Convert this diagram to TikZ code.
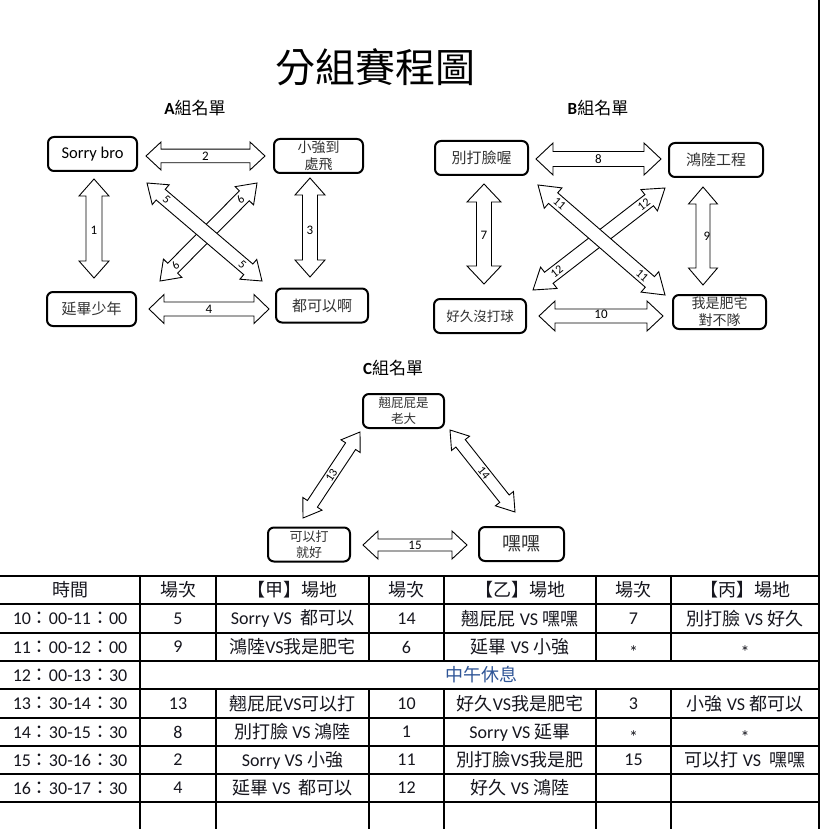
\documentclass[tikz,border=0pt]{standalone}
\usepackage{fontspec}
\setmainfont{Carlito}
\newfontfamily\cjk{Noto Sans CJK TC}
\usetikzlibrary{calc}
\definecolor{lunch}{RGB}{47,85,151}
\definecolor{txt}{RGB}{22,22,30}
\definecolor{boxtxt}{RGB}{50,50,50}
\newcommand{\fwc}{{\cjk ：}}
\newcommand{\blockarrow}[5]{%
 \draw[barrow] (#1) -- ($(#1)!#5!(#2)!#3!90:(#2)$) -- ($(#1)!#5!(#2)!#4!90:(#2)$)
  -- ($(#2)!#5!(#1)!#4!-90:(#1)$) -- ($(#2)!#5!(#1)!#3!-90:(#1)$) -- (#2)
  -- ($(#2)!#5!(#1)!#3!90:(#1)$) -- ($(#2)!#5!(#1)!#4!90:(#1)$)
  -- ($(#1)!#5!(#2)!#4!-90:(#2)$) -- ($(#1)!#5!(#2)!#3!-90:(#2)$) -- cycle;}
\begin{document}
\begin{tikzpicture}[x=1pt,y=-1pt,
 box/.style={draw, line width=2pt, rounded corners=6pt, inner sep=0pt, align=center, text=boxtxt,
   minimum width=89pt, minimum height=34pt},
 barrow/.style={draw=black, fill=white, line width=0.9pt, line join=miter},
 alabel/.style={font=\fontsize{13}{13}\selectfont, inner sep=0pt},
 dlabel/.style={font=\fontsize{12}{12}\selectfont, inner sep=0pt},
 gtitle/.style={font=\fontsize{17}{17}\selectfont, inner sep=0pt},
 cell/.style={font=\fontsize{18}{18}\selectfont, text=txt, inner sep=0pt, anchor=center},
 star/.style={cell, yshift=-5pt},
 grid/.style={line width=1.1pt, line cap=rect}]

\useasboundingbox (0,0) rectangle (828,829);
\fill[white] (0,0) rectangle (828,829);

% title
\node[font=\cjk\fontsize{40}{40}\selectfont, inner sep=0pt] (title) at (375,67) {分組賽程圖};

% group titles
\node[gtitle] (ta) at (195,108) {\textbf{A}{\cjk 組名單}};
\node[gtitle] (tb) at (598,108) {\textbf{B}{\cjk 組名單}};
\node[gtitle] (tc) at (393,368) {\textbf{C}{\cjk 組名單}};

% group A boxes
\node[box, text=black, font=\fontsize{16.5}{16.5}\selectfont] (sorry) at (92.5,154) {Sorry bro};
\node[box, font=\cjk\fontsize{14}{17}\selectfont] (xq) at (318.5,156) {小強到\\處飛};
\node[box, font=\cjk\fontsize{15}{15}\selectfont] (yb) at (91.5,309) {延畢少年};
\node[box, minimum width=92pt, font=\cjk\fontsize{15}{15}\selectfont] (dk) at (322,305.5) {都可以啊};

% group B boxes
\node[box, minimum width=93pt, font=\cjk\fontsize{15}{15}\selectfont] (bd) at (481.5,158) {別打臉喔};
\node[box, minimum width=94pt, font=\cjk\fontsize{15}{15}\selectfont] (hl) at (716,160) {鴻陸工程};
\node[box, minimum width=92pt, font=\cjk\fontsize{13.5}{13.5}\selectfont] (hj) at (480,316) {好久沒打球};
\node[box, minimum width=93pt, font=\cjk\fontsize{14}{17}\selectfont] (ws) at (719.5,312) {我是肥宅\\對不隊};

% group C boxes
\node[box, minimum width=81pt, font=\cjk\fontsize{12.5}{16}\selectfont] (qp) at (403.5,411) {翹屁屁是\\老大};
\node[box, minimum width=82pt, font=\cjk\fontsize{13}{16}\selectfont] (ky) at (309,544.5) {可以打\\就好};
\node[box, minimum width=85pt, font=\cjk\fontsize{19}{19}\selectfont] (hh) at (521.5,544) {嘿嘿};

% arrow end coordinates
\coordinate (a1s) at (94,179);  \coordinate (a1e) at (94,278);
\coordinate (a2s) at (146,156); \coordinate (a2e) at (265,156);
\coordinate (a3s) at (310,178); \coordinate (a3e) at (310,277);
\coordinate (a4s) at (149,309); \coordinate (a4e) at (269,309);
\coordinate (a5s) at (147,183); \coordinate (a5e) at (262,281);
\coordinate (a6s) at (257,183); \coordinate (a6e) at (160,281);
\coordinate (a7s) at (484,184); \coordinate (a7e) at (484,284);
\coordinate (a8s) at (536,159); \coordinate (a8e) at (661,159);
\coordinate (a9s) at (703,187); \coordinate (a9e) at (703,285);
\coordinate (a10s) at (539,316); \coordinate (a10e) at (663,316);
\coordinate (a11s) at (538,185); \coordinate (a11e) at (665,295);
\coordinate (a12s) at (665,188); \coordinate (a12e) at (533,290);
\coordinate (a13s) at (360,432); \coordinate (a13e) at (303,518);
\coordinate (a14s) at (450,430); \coordinate (a14e) at (515,512);
\coordinate (a15s) at (363,545); \coordinate (a15e) at (467,545);

% group A arrows
\blockarrow{a1s}{a1e}{15pt}{8pt}{17pt}
\blockarrow{a2s}{a2e}{14pt}{6.8pt}{15pt}
\blockarrow{a3s}{a3e}{15pt}{7.5pt}{17pt}
\blockarrow{a4s}{a4e}{14.5pt}{7pt}{15pt}
\blockarrow{a6s}{a6e}{13pt}{7pt}{18pt}
\blockarrow{a5s}{a5e}{13pt}{7pt}{18pt}
\node[alabel] (l1) at ($(a1s)!0.52!(a1e)$) {1};
\node[alabel] (l2) at ($(a2s)!0.5!(a2e)$) {2};
\node[alabel] (l3) at ($(a3s)!0.53!(a3e)$) {3};
\node[alabel] (l4) at ($(a4s)!0.5!(a4e)$) {4};
\path (a5s) -- (a5e) node[dlabel, sloped, pos=0.17] (l5a) {5} node[dlabel, sloped, pos=0.83] (l5b) {5};
\path (a6s) -- (a6e) node[dlabel, sloped, pos=0.17] (l6a) {6} node[dlabel, sloped, pos=0.84] (l6b) {6};

% group B arrows
\blockarrow{a7s}{a7e}{17pt}{7.5pt}{18pt}
\blockarrow{a8s}{a8e}{16pt}{7.5pt}{17pt}
\blockarrow{a9s}{a9e}{14.5pt}{7pt}{17pt}
\blockarrow{a10s}{a10e}{15pt}{7pt}{16pt}
\blockarrow{a12s}{a12e}{13.5pt}{7pt}{20pt}
\blockarrow{a11s}{a11e}{13.5pt}{7pt}{20pt}
\node[alabel] (l7) at ($(a7s)!0.51!(a7e)$) {7};
\node[alabel] (l8) at ($(a8s)!0.5!(a8e)$) {8};
\node[alabel] (l9) at ($(a9s)!0.5!(a9e)+(4,0)$) {9};
\node[alabel] (l10) at ($(a10s)!0.5!(a10e)+(0,-1.5)$) {10};
\path (a11s) -- (a11e) node[dlabel, sloped, pos=0.17] (l11a) {11} node[dlabel, sloped, pos=0.82] (l11b) {11};
\path (a12s) -- (a12e) node[dlabel, sloped, pos=0.16] (l12a) {12} node[dlabel, sloped, pos=0.82] (l12b) {12};

% group C arrows
\blockarrow{a13s}{a13e}{11.5pt}{6pt}{17pt}
\blockarrow{a14s}{a14e}{11.5pt}{6pt}{17pt}
\blockarrow{a15s}{a15e}{14pt}{6pt}{15pt}
\path (a13s) -- (a13e) node[dlabel, sloped, pos=0.5] (l13) {13};
\path (a14s) -- (a14e) node[dlabel, sloped, pos=0.52] (l14) {14};
\node[alabel] (l15) at ($(a15s)!0.5!(a15e)$) {15};

% table grid
\foreach \yy in {576,604,633,661,689,718,746,774,802} \draw[grid] (0,\yy) -- (819,\yy);
\draw[grid] (140,576) -- (140,829);
\draw[grid] (819,0) -- (819,829);
\foreach \xx in {216,369,444,596,671} {
  \draw[grid] (\xx,576) -- (\xx,661);
  \draw[grid] (\xx,689) -- (\xx,829);
}

% header
\node[cell] (h1) at (70,590) {\cjk 時間};
\node[cell] (h2) at (178,590) {\cjk 場次};
\node[cell] (h3) at (292.5,590) {\cjk 【甲】場地};
\node[cell] (h4) at (406.5,590) {\cjk 場次};
\node[cell] (h5) at (520,590) {\cjk 【乙】場地};
\node[cell] (h6) at (633.5,590) {\cjk 場次};
\node[cell] (h7) at (745,590) {\cjk 【丙】場地};

% row 1
\node[cell] (r1a) at (70,618.5) {10\fwc 00-11\fwc 00};
\node[cell] (r1b) at (178,618.5) {5};
\node[cell] (r1c) at (292.5,618.5) {Sorry VS\ \ {\cjk 都可以}};
\node[cell] (r1d) at (406.5,618.5) {14};
\node[cell] (r1e) at (520,618.5) {{\cjk 翹屁屁} VS {\cjk 嘿嘿}};
\node[cell] (r1f) at (633.5,618.5) {7};
\node[cell] (r1g) at (745,618.5) {{\cjk 別打臉} VS {\cjk 好久}};

% row 2
\node[cell] (r2a) at (70,647) {11\fwc 00-12\fwc 00};
\node[cell] (r2b) at (178,647) {9};
\node[cell] (r2c) at (292.5,647) {{\cjk 鴻陸}VS{\cjk 我是肥宅}};
\node[cell] (r2d) at (406.5,647) {6};
\node[cell] (r2e) at (520,647) {{\cjk 延畢} VS {\cjk 小強}};
\node[star] (r2f) at (633.5,647) {*};
\node[star] (r2g) at (745,647) {*};

% row 3 (lunch)
\node[cell] (r3a) at (70,675) {12\fwc 00-13\fwc 30};
\node[cell, text=lunch] (r3b) at (481,675) {\cjk 中午休息};

% row 4
\node[cell] (r4a) at (70,703.5) {13\fwc 30-14\fwc 30};
\node[cell] (r4b) at (178,703.5) {13};
\node[cell] (r4c) at (292.5,703.5) {{\cjk 翹屁屁}VS{\cjk 可以打}};
\node[cell] (r4d) at (406.5,703.5) {10};
\node[cell] (r4e) at (520,703.5) {{\cjk 好久}VS{\cjk 我是肥宅}};
\node[cell] (r4f) at (633.5,703.5) {3};
\node[cell] (r4g) at (745,703.5) {{\cjk 小強} VS {\cjk 都可以}};

% row 5
\node[cell] (r5a) at (70,732) {14\fwc 30-15\fwc 30};
\node[cell] (r5b) at (178,732) {8};
\node[cell] (r5c) at (292.5,732) {{\cjk 別打臉} VS {\cjk 鴻陸}};
\node[cell] (r5d) at (406.5,732) {1};
\node[cell] (r5e) at (520,732) {Sorry VS {\cjk 延畢}};
\node[star] (r5f) at (633.5,732) {*};
\node[star] (r5g) at (745,732) {*};

% row 6
\node[cell] (r6a) at (70,760) {15\fwc 30-16\fwc 30};
\node[cell] (r6b) at (178,760) {2};
\node[cell] (r6c) at (292.5,760) {Sorry VS {\cjk 小強}};
\node[cell] (r6d) at (406.5,760) {11};
\node[cell] (r6e) at (520,760) {{\cjk 別打臉}VS{\cjk 我是肥}};
\node[cell] (r6f) at (633.5,760) {15};
\node[cell] (r6g) at (745,760) {{\cjk 可以打} VS\ \ {\cjk 嘿嘿}};

% row 7
\node[cell] (r7a) at (70,788) {16\fwc 30-17\fwc 30};
\node[cell] (r7b) at (178,788) {4};
\node[cell] (r7c) at (292.5,788) {{\cjk 延畢} VS\ \ {\cjk 都可以}};
\node[cell] (r7d) at (406.5,788) {12};
\node[cell] (r7e) at (520,788) {{\cjk 好久} VS {\cjk 鴻陸}};

\end{tikzpicture}
\end{document}
